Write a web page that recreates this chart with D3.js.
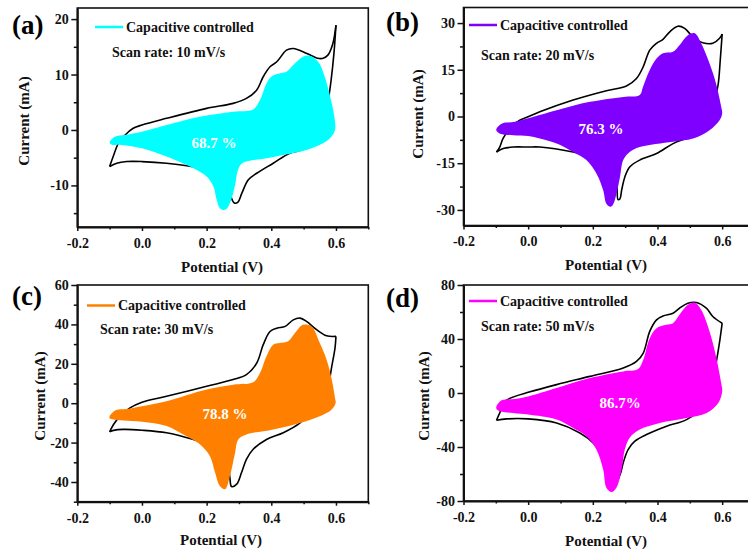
<!DOCTYPE html>
<html>
<head>
<meta charset="utf-8">
<script src="https://cdn.jsdelivr.net/npm/d3@7"></script>
<style>
  body { margin: 0; background: #fff; }
  svg { display: block; font-family: "Liberation Serif", "Times New Roman", serif; font-weight: bold; }
</style>
</head>
<body>
<svg id="chart" width="748" height="553"></svg>
<script>
// ---- Data: cyclic voltammograms, potential (V) vs current (mA) ----
// Total CV, anodic (forward) and cathodic (reverse) sweeps
const totalFwdA = [[-0.1,-6.6],[-0.089,-4.8],[-0.073,-2.4],[-0.052,-0.9],[-0.027,0.3],[0.0,0.9],[0.076,2.1],[0.2,3.9],[0.282,4.8],[0.323,5.7],[0.355,7.2],[0.375,9.6],[0.396,11.4],[0.417,12.3],[0.447,14.4],[0.468,14.7],[0.51,13.8],[0.54,13.0],[0.558,12.9],[0.575,13.5],[0.59,15.5],[0.6,18.9]];
const totalRevA = [[0.6,18.9],[0.594,14],[0.585,9],[0.575,5],[0.55,-1.5],[0.5,-3.5],[0.457,-4.2],[0.406,-6.0],[0.355,-7.8],[0.329,-9.0],[0.309,-11.4],[0.297,-13.0],[0.287,-13.2],[0.277,-12.3],[0.272,-10.2],[0.262,-8.4],[0.221,-7.8],[0.179,-6.9],[0.076,-6.0],[0.0,-5.7],[-0.047,-5.7],[-0.078,-6.0],[-0.1,-6.6]];
const totalFwdB = [[-0.098,-11.4],[-0.088,-9.8],[-0.078,-7.1],[-0.052,-3.3],[-0.026,-1.2],[0.0,-0.1],[0.036,1.5],[0.139,5.3],[0.242,8.3],[0.304,9.8],[0.335,12.2],[0.356,16.0],[0.376,21.3],[0.397,23.5],[0.417,24.8],[0.438,27.2],[0.463,29.0],[0.484,28.3],[0.509,25.6],[0.54,23.7],[0.571,23.5],[0.592,25.1],[0.6,26.5]];
const totalRevB = [[0.6,26.5],[0.594,18],[0.588,10.6],[0.575,4],[0.55,-3],[0.5,-6.5],[0.448,-8.7],[0.397,-11.9],[0.345,-14.0],[0.314,-16.2],[0.299,-19.4],[0.289,-23.7],[0.284,-26.4],[0.278,-26.7],[0.275,-22.6],[0.271,-18.3],[0.25,-15.1],[0.199,-13.0],[0.139,-11.4],[0.036,-9.8],[0.0,-9.8],[-0.046,-9.8],[-0.077,-10.3],[-0.098,-11.4]];
const totalFwdC = [[-0.1,-14.5],[-0.088,-10.8],[-0.068,-6.6],[-0.037,-2.4],[0.0,0.5],[0.076,3.5],[0.2,8.6],[0.282,12.0],[0.323,14.5],[0.355,20.4],[0.375,29.7],[0.396,36.4],[0.417,38.1],[0.443,39.0],[0.468,42.3],[0.489,43.2],[0.509,41.5],[0.54,37.3],[0.571,34.2],[0.6,33.9]];
const totalRevC = [[0.6,33.9],[0.597,28.0],[0.587,18.7],[0.575,8],[0.55,-2],[0.5,-8],[0.489,-10.0],[0.437,-15.0],[0.385,-18.4],[0.344,-23.4],[0.323,-28.5],[0.308,-35.2],[0.293,-41.1],[0.277,-42.3],[0.272,-38],[0.265,-28],[0.25,-23],[0.221,-21.8],[0.159,-18.4],[0.076,-15.0],[0.0,-13.7],[-0.058,-13.3],[-0.088,-13.8],[-0.1,-14.5]];
const totalFwdD = [[-0.098,-20.2],[-0.088,-14.8],[-0.072,-6.2],[-0.041,-2.5],[0.0,0.5],[0.088,6.2],[0.191,12.3],[0.294,18.5],[0.335,23.4],[0.356,29.6],[0.376,45.6],[0.397,54.2],[0.417,57.1],[0.448,59.1],[0.468,62.8],[0.494,66.5],[0.52,67.0],[0.551,62.8],[0.571,56.7],[0.6,51.7]];
const totalRevD = [[0.6,51.7],[0.593,39.4],[0.583,24.6],[0.57,8],[0.54,-10],[0.49,-19.7],[0.428,-24.6],[0.366,-30.8],[0.33,-35.7],[0.309,-41.9],[0.294,-51.7],[0.285,-60],[0.272,-66],[0.26,-62],[0.24,-50],[0.201,-36.9],[0.16,-29.6],[0.088,-22.2],[0.0,-19.2],[-0.067,-19.2],[-0.098,-20.2]];

// Capacitive-controlled contribution (closed loops)
const capA = [[-0.1,-2.2],[-0.084,-1.2],[-0.053,-0.9],[0.0,-0.3],[0.076,0.9],[0.179,2.4],[0.282,3.3],[0.344,3.7],[0.365,5.4],[0.385,8.4],[0.4,9.6],[0.417,10.1],[0.447,10.5],[0.468,11.7],[0.498,13.2],[0.519,13.4],[0.545,12.3],[0.563,10],[0.578,7],[0.59,4],[0.597,1.5],[0.597,0],[0.586,-1.2],[0.56,-2.4],[0.509,-3.6],[0.437,-4.5],[0.385,-5.1],[0.31,-6.0],[0.297,-7.2],[0.287,-10.2],[0.272,-13.2],[0.257,-14.4],[0.241,-14.1],[0.231,-12.6],[0.221,-10.2],[0.2,-8.4],[0.159,-6.9],[0.076,-4.8],[0.0,-3.3],[-0.063,-2.7],[-0.095,-2.6]];
const capB = [[-0.098,-3.9],[-0.082,-2.3],[-0.041,-1.7],[0.0,-0.6],[0.088,2.0],[0.191,4.7],[0.294,6.3],[0.345,6.9],[0.355,9.5],[0.376,14.9],[0.397,18.6],[0.417,20.3],[0.448,20.8],[0.468,22.9],[0.494,26.1],[0.515,26.7],[0.535,23.5],[0.561,17.0],[0.581,10.6],[0.597,3.1],[0.6,1.0],[0.592,-1.2],[0.561,-4.4],[0.51,-7.1],[0.448,-8.1],[0.345,-9.8],[0.314,-11.4],[0.294,-14.0],[0.284,-19.4],[0.273,-24.8],[0.263,-28.2],[0.255,-29.0],[0.242,-28.0],[0.232,-23.7],[0.211,-18.3],[0.18,-14.0],[0.139,-11.4],[0.088,-8.7],[0.036,-7.1],[0.0,-6.3],[-0.046,-6.0],[-0.087,-5.5],[-0.098,-4.6]];
const capC = [[-0.1,-6.6],[-0.08,-3.5],[-0.047,-2.9],[0.0,-1.5],[0.076,1.0],[0.2,6.9],[0.282,9.4],[0.344,10.6],[0.365,15.3],[0.385,23.8],[0.406,29.7],[0.426,30.5],[0.452,31.4],[0.473,35.6],[0.498,39.8],[0.524,39.0],[0.55,30.5],[0.571,22.1],[0.587,12.0],[0.597,2.7],[0.599,0.2],[0.587,-3.2],[0.55,-6.6],[0.489,-10.0],[0.406,-13.3],[0.323,-15.9],[0.298,-18.4],[0.288,-25.1],[0.272,-37.0],[0.257,-43.7],[0.241,-42.0],[0.226,-35.2],[0.21,-26.8],[0.179,-20.9],[0.128,-15.9],[0.076,-11.6],[0.0,-9.4],[-0.058,-8.8],[-0.088,-8.3],[-0.1,-7.6]];
const capD = [[-0.098,-9.9],[-0.082,-5.4],[-0.041,-4.4],[0.0,-2.5],[0.088,3.7],[0.191,11.1],[0.294,16.0],[0.34,17.7],[0.356,24.6],[0.376,40.6],[0.397,48.0],[0.427,50.5],[0.448,51.7],[0.468,57.9],[0.494,65.3],[0.515,67.0],[0.535,61.6],[0.561,45.6],[0.581,27.1],[0.597,7.4],[0.6,1.2],[0.588,-7.4],[0.552,-14.8],[0.49,-18.5],[0.407,-22.2],[0.345,-27.1],[0.314,-33.2],[0.299,-41.9],[0.289,-56.7],[0.273,-70.2],[0.258,-73.4],[0.242,-70.2],[0.232,-56.7],[0.211,-41.9],[0.18,-32.0],[0.139,-25.9],[0.088,-19.7],[0.0,-16.0],[-0.046,-14.8],[-0.087,-13.5],[-0.098,-11.8]];

// Labels and ticks
const panelTags = ["(a)", "(b)", "(c)", "(d)"];
const scanRates = [10, 20, 30, 50];
const capacitivePercents = ["68.7 %", "76.3 %", "78.8 %", "86.7%"];
const capColors = ["#00ffff", "#7f00ff", "#ff8000", "#ff00ff"];
const potentialTicks = [-0.2, 0.0, 0.2, 0.4, 0.6];
const potentialMinor = [-0.1, 0.1, 0.3, 0.5, 0.7];
const currentTicksA = [-10, 0, 10, 20],            currentMinorA = [-15, -5, 5, 15];
const currentTicksB = [-30, -15, 0, 15, 30],       currentMinorB = [-22.5, -7.5, 7.5, 22.5];
const currentTicksC = [-40, -20, 0, 20, 40, 60],   currentMinorC = [-50, -30, -10, 10, 30, 50];
const currentTicksD = [-80, -40, 0, 40, 80],       currentMinorD = [-60, -20, 20, 60];

// ---- Layout of the four panels ----
const panels = [
  { fwd: totalFwdA, rev: totalRevA, cap: capA, yDomain: [-17.5, 22], yTicks: currentTicksA, yMinor: currentMinorA,
    box: { l: 77.3, r: 368.3, t: 8, b: 227 }, tag: [12, 25], leg: [95, 27], scan: [112, 52], pct: [214, 143], xTitle: [222, 266.5], yTitle: [24, 121] },
  { fwd: totalFwdB, rev: totalRevB, cap: capB, yDomain: [-35, 35], yTicks: currentTicksB, yMinor: currentMinorB,
    box: { l: 463.5, r: 754.5, t: 7.5, b: 225.5 }, tag: [386, 22], leg: [469, 25], scan: [481, 55], pct: [601, 129], xTitle: [606, 265], yTitle: [418, 114] },
  { fwd: totalFwdC, rev: totalRevC, cap: capC, yDomain: [-50, 60], yTicks: currentTicksC, yMinor: currentMinorC,
    box: { l: 77.3, r: 368.3, t: 285, b: 501.7 }, tag: [12, 296], leg: [87, 305.5], scan: [100, 329.5], pct: [225, 414], xTitle: [221, 539.5], yTitle: [40, 396] },
  { fwd: totalFwdD, rev: totalRevD, cap: capD, yDomain: [-80, 80], yTicks: currentTicksD, yMinor: currentMinorD,
    box: { l: 463.5, r: 754.5, t: 285, b: 501 }, tag: [386, 298], leg: [469, 301], scan: [481, 326], pct: [620, 403], xTitle: [606, 541], yTitle: [424, 396] }
];

const svg = d3.select("#chart");

panels.forEach((p, i) => {
  const g = svg.append("g");
  const x = d3.scaleLinear().domain([-0.2, 0.7]).range([p.box.l, p.box.r]);
  const y = d3.scaleLinear().domain(p.yDomain).range([p.box.b, p.box.t]);

  const branch = d3.line().x(d => x(d[0])).y(d => y(d[1])).curve(d3.curveCatmullRom.alpha(0.5));
  const loop = d3.line().x(d => x(d[0])).y(d => y(d[1])).curve(d3.curveCatmullRomClosed.alpha(0.5));

  // frame
  g.append("rect")
    .attr("x", p.box.l).attr("y", p.box.t)
    .attr("width", p.box.r - p.box.l).attr("height", p.box.b - p.box.t)
    .attr("fill", "none").attr("stroke", "#111").attr("stroke-width", 1.6);

  // total CV outline
  [p.fwd, p.rev].forEach(seg => {
    g.append("path").attr("d", branch(seg))
      .attr("fill", "none").attr("stroke", "#000").attr("stroke-width", 1.6)
      .attr("stroke-linejoin", "miter");
  });

  // capacitive contribution
  g.append("path").attr("d", loop(p.cap)).attr("fill", capColors[i]).attr("stroke", "none");

  // x axis
  const xAxis = g.append("g").attr("transform", `translate(0,${p.box.b})`)
    .call(d3.axisBottom(x).tickValues(potentialTicks).tickFormat(d => d.toFixed(1))
      .tickSize(4).tickSizeOuter(0).tickPadding(7));
  g.append("g").attr("transform", `translate(0,${p.box.b})`)
    .call(d3.axisBottom(x).tickValues(potentialMinor).tickFormat("").tickSize(2.5).tickSizeOuter(0))
    .call(a => a.select(".domain").remove());

  // y axis
  const yAxis = g.append("g").attr("transform", `translate(${p.box.l},0)`)
    .call(d3.axisLeft(y).tickValues(p.yTicks).tickFormat(d => String(d))
      .tickSize(6).tickSizeOuter(0).tickPadding(2.5));
  g.append("g").attr("transform", `translate(${p.box.l},0)`)
    .call(d3.axisLeft(y).tickValues(p.yMinor).tickFormat("").tickSize(3.5).tickSizeOuter(0))
    .call(a => a.select(".domain").remove());

  g.selectAll(".domain").attr("stroke", "#111").attr("stroke-width", 2);
  g.selectAll(".tick line").attr("stroke", "#111").attr("stroke-width", 1.5);
  g.selectAll(".tick text").attr("fill", "#111")
    .style("font-family", '"Liberation Serif", serif').style("font-weight", "bold").style("font-size", "14px");

  // axis titles
  g.append("text").attr("x", p.xTitle[0]).attr("y", p.xTitle[1]).attr("dy", "0.35em")
    .attr("text-anchor", "middle").attr("font-size", 15).attr("fill", "#111").text("Potential (V)");
  g.append("text").attr("transform", `translate(${p.yTitle[0]},${p.yTitle[1]}) rotate(-90)`).attr("dy", "0.35em")
    .attr("text-anchor", "middle").attr("font-size", 15).attr("fill", "#111").text("Current (mA)");

  // panel tag
  g.append("text").attr("x", p.tag[0]).attr("y", p.tag[1]).attr("dy", "0.35em")
    .attr("font-size", 27).attr("fill", "#000").text(panelTags[i]);

  // legend
  g.append("line").attr("x1", p.leg[0]).attr("x2", p.leg[0] + 28).attr("y1", p.leg[1]).attr("y2", p.leg[1])
    .attr("stroke", capColors[i]).attr("stroke-width", 2.5);
  g.append("text").attr("x", p.leg[0] + 31).attr("y", p.leg[1]).attr("dy", "0.35em")
    .attr("font-size", 14).attr("fill", "#111").text("Capacitive controlled");
  g.append("text").attr("x", p.scan[0]).attr("y", p.scan[1]).attr("dy", "0.35em")
    .attr("font-size", 14).attr("fill", "#111").text(`Scan rate: ${scanRates[i]} mV/s`);

  // capacitive fraction
  g.append("text").attr("x", p.pct[0]).attr("y", p.pct[1]).attr("dy", "0.35em")
    .attr("text-anchor", "middle").attr("font-size", 15).attr("fill", "#fff").text(capacitivePercents[i]);
});
</script>
</body>
</html>
